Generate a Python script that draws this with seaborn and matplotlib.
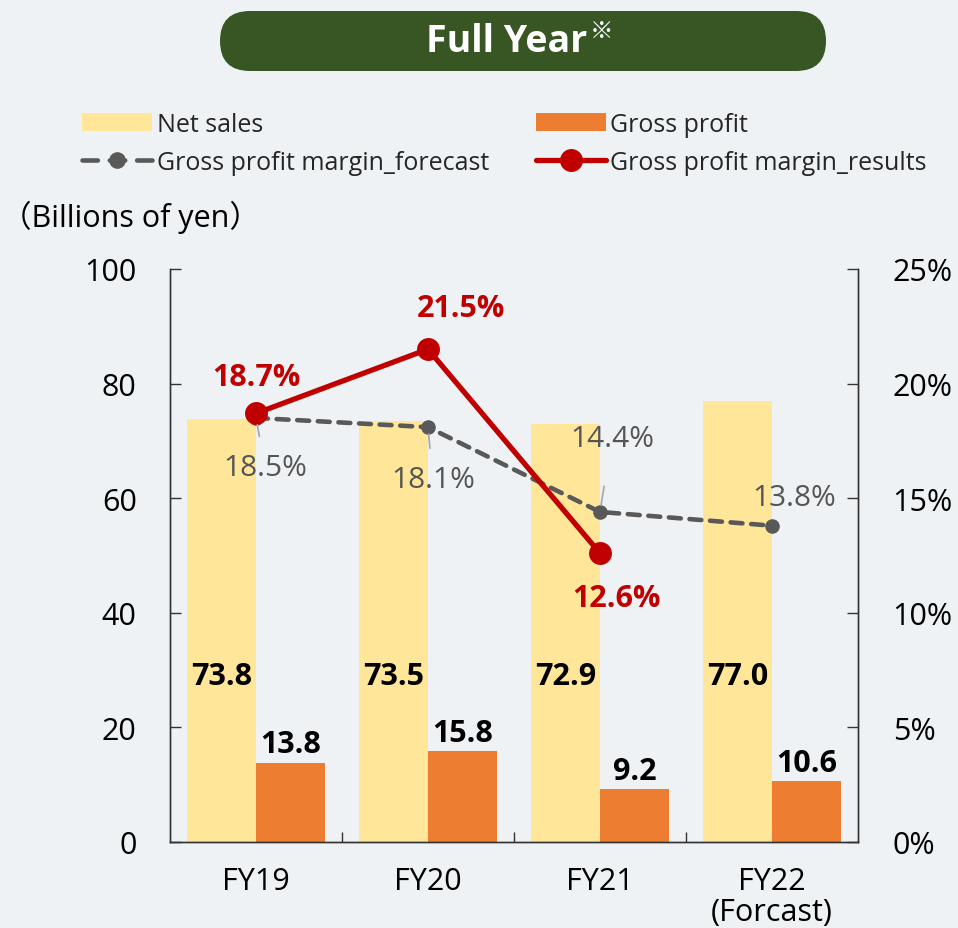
import numpy as np
import pandas as pd
import matplotlib
matplotlib.use("Agg")
import matplotlib.pyplot as plt
import seaborn as sns
from matplotlib.patches import FancyBboxPatch, Patch
from matplotlib.lines import Line2D
from matplotlib.transforms import IdentityTransform

# ---- data ----
categories = ["FY19", "FY20", "FY21", "FY22\n(Forcast)"]
net_sales = [73.8, 73.5, 72.9, 77.0]
gross_profit = [13.8, 15.8, 9.2, 10.6]
margin_forecast = [18.5, 18.1, 14.4, 13.8]
margin_results = [18.7, 21.5, 12.6]
left_ticks = [0, 20, 40, 60, 80, 100]
right_ticks = [0, 5, 10, 15, 20, 25]

BG = "#eef2f4"
C_NS = "#ffe699"
C_GP = "#ed7d31"
C_FC = "#595959"
C_RS = "#c00000"
FS = 22

sns.set_theme(style="white")
plt.rcParams["font.family"] = ["Open Sans", "Noto Sans CJK JP", "DejaVu Sans"]

fig = plt.figure(figsize=(9.58, 9.29), dpi=100, facecolor=BG)
ax = fig.add_axes([0.1775, 0.0926, 0.718, 0.6168])
ax.set_facecolor(BG)

df = pd.DataFrame({
    "year": categories * 2,
    "value": net_sales + gross_profit,
    "series": ["Net sales"] * len(categories) + ["Gross profit"] * len(categories),
})
sns.barplot(data=df, x="year", y="value", hue="series",
            palette=[C_NS, C_GP], width=0.8, gap=0, saturation=1,
            linewidth=0, errorbar=None, legend=False, ax=ax)
ax.set_xlim(-0.5, len(categories) - 0.5)
ax.set_ylim(0, 100)
ax.set_yticks(left_ticks)
ax.set_xlabel("")
ax.set_ylabel("")
pos = np.arange(len(categories))
ax.set_xticks(pos, categories)
ax.set_xticks(pos[:-1] + 0.5, minor=True)
ax.tick_params(axis="x", which="major", length=0, pad=17, labelsize=FS, colors="black")
for t in ax.get_xticklabels():
    t.set_linespacing(1.08)
ax.tick_params(axis="x", which="minor", direction="in", length=7, width=1, color="#333333", bottom=True)
ax.tick_params(axis="y", direction="in", length=8, width=1, pad=24, labelsize=FS,
               left=True, color="#333333", labelcolor="black")
ax.spines["top"].set_visible(False)
for s in ["left", "right", "bottom"]:
    ax.spines[s].set_color("#333333")
    ax.spines[s].set_linewidth(1)

# bar labels
for i, v in enumerate(net_sales):
    ax.text(i - 0.2, 29, f"{v:.1f}", ha="center", va="center",
            fontsize=FS, fontweight="bold", color="black")
for i, v in enumerate(gross_profit):
    ax.text(i + 0.2, v + 0.6, f"{v:.1f}", ha="center", va="bottom",
            fontsize=FS, fontweight="bold", color="black")

# secondary axis
ax2 = ax.twinx()
ax2.patch.set_visible(False)
ax2.set_ylim(0, 25)
ax2.set_yticks(right_ticks, [f"{t}%" for t in right_ticks])
ax2.tick_params(axis="y", direction="in", length=8, width=1, pad=25, labelsize=FS,
                right=True, color="#333333", labelcolor="black")
ax2.spines["top"].set_visible(False)
for s in ["left", "right", "bottom"]:
    ax2.spines[s].set_color("#333333")
    ax2.spines[s].set_linewidth(1)

sns.lineplot(x=pos, y=margin_forecast, ax=ax2, color=C_FC, linewidth=3.3,
             marker="o", markersize=10.5, markeredgecolor=C_FC, markeredgewidth=0,
             linestyle="--", legend=False)
ln = ax2.lines[-1]
ln.set_dashes([2.6, 1.9])
ln.set_dash_capstyle("round")

sns.lineplot(x=pos[:len(margin_results)], y=margin_results, ax=ax2, color=C_RS,
             linewidth=3.8, marker="o", markersize=16.5, markeredgecolor=C_RS,
             markeredgewidth=0, legend=False)

# percentage labels
res_off = [(0, 26), (24, 30), (12, -32)]
for i, (v, off) in enumerate(zip(margin_results, res_off)):
    ax2.annotate(f"{v:.1f}%", (pos[i], v), xytext=off, textcoords="offset points",
                 ha="center", va="center", fontsize=FS, fontweight="bold", color=C_RS)

fc_off = [(6.5, -36), (3.6, -38), (8.6, 53), (16, 20)]
fc_shrink = [10, 10, 22, None]
for i, (v, off, sh) in enumerate(zip(margin_forecast, fc_off, fc_shrink)):
    ap = dict(arrowstyle="-", color="#a6a6a6", lw=1.2, shrinkA=sh, shrinkB=5) if sh else None
    ax2.annotate(f"{v:.1f}%", (pos[i], v), xytext=off, textcoords="offset points",
                 ha="center", va="center", fontsize=21.5, color="#555555",
                 arrowprops=ap)

# legend
handles = [
    Patch(facecolor=C_NS, edgecolor="none", label="Net sales"),
    Line2D([0], [0], color=C_FC, lw=3.3, ls=(0, (3.36, 2.6)), marker="o", markersize=12,
           markeredgewidth=0, dash_capstyle="round", label="Gross profit margin_forecast"),
    Patch(facecolor=C_GP, edgecolor="none", label="Gross profit"),
    Line2D([0], [0], color=C_RS, lw=3.8, marker="o", markersize=16.5,
           markeredgewidth=0, label="Gross profit margin_results"),
]
fig.legend(handles=handles, ncol=2, loc="upper left", bbox_to_anchor=(82 / 958, 1 - 113 / 929),
           frameon=False, fontsize=18, handlelength=2.8, handleheight=0.75,
           handletextpad=0.2, columnspacing=1.85, labelspacing=0.5,
           borderpad=0, borderaxespad=0)

# title pill
pill = FancyBboxPatch((220, 929 - 72), 606, 60,
                      boxstyle="round,pad=0,rounding_size=30",
                      facecolor="#375623", edgecolor="none",
                      transform=IdentityTransform())
fig.add_artist(pill)
fig.text(587 / 958, 1 - 42 / 929, "Full Year", color="white", fontsize=27,
         fontweight="bold", ha="right", va="center")
fig.text(590 / 958, 1 - 20 / 929, "※", color="white", fontsize=17,
         ha="left", va="top", family=["Noto Sans CJK JP", "DejaVu Sans"])

# units label
fig.text(1 / 958, 1 - 217 / 929, "（Billions of yen）", fontsize=22, color="black",
         ha="left", va="center", family=["Open Sans", "Noto Sans CJK JP"])

fig.savefig("out.png", dpi=100, facecolor=BG)
